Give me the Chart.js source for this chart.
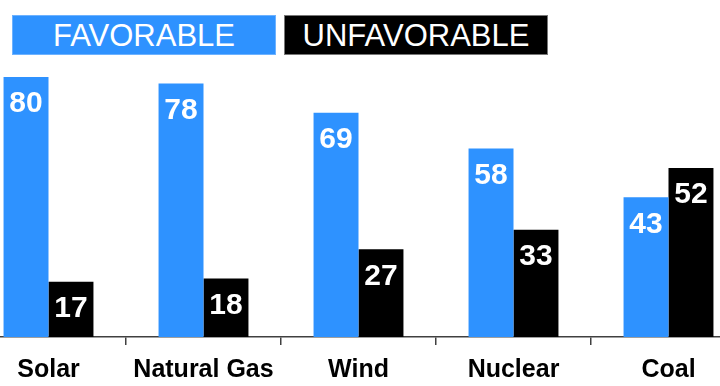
<!DOCTYPE html>
<html>
<head>
<meta charset="utf-8">
<script src="https://cdn.jsdelivr.net/npm/chart.js@4.4.0/dist/chart.umd.min.js"></script>
<style>
  html, body { margin: 0; padding: 0; background: #fff; overflow: hidden; }
  body { width: 720px; height: 386px; position: relative; }
  #wrap { position: absolute; left: -29px; top: 0; width: 775px; height: 386px; }
  .key {
    position: absolute; top: 15px; height: 40px; line-height: 40px;
    color: #fff; text-align: center; box-sizing: border-box;
    font-family: "Liberation Sans", Arial, sans-serif; font-size: 31px;
  }
</style>
</head>
<body>
<div id="wrap"><canvas id="myChart"></canvas></div>
<div id="keyFav" class="key" style="left:12px;width:264px;"></div>
<div id="keyUnfav" class="key" style="left:284px;width:264px;"></div>
<script>
var categories = ['Solar', 'Natural Gas', 'Wind', 'Nuclear', 'Coal'];
var favorable = [80, 78, 69, 58, 43];
var unfavorable = [17, 18, 27, 33, 52];
var seriesNames = ['FAVORABLE', 'UNFAVORABLE'];

var BLUE = '#2e92ff';
var FONT = '"Liberation Sans", Arial, sans-serif';

// legend boxes as plain html text
var kf = document.getElementById('keyFav');
kf.textContent = seriesNames[0];
kf.style.background = BLUE;
kf.style.border = '1px solid #6db2ff';
var ku = document.getElementById('keyUnfav');
ku.textContent = seriesNames[1];
ku.style.background = '#000';
ku.style.border = '1px solid #777';

// white numbers inside the top of each bar
var valueLabels = {
    id: 'valueLabels',
    afterDatasetsDraw: function(chart) {
        var ctx = chart.ctx;
        ctx.save();
        ctx.fillStyle = '#fff';
        ctx.font = 'bold 30px ' + FONT;
        ctx.textAlign = 'center';
        ctx.textBaseline = 'middle';
        chart.data.datasets.forEach(function(ds, i) {
            chart.getDatasetMeta(i).data.forEach(function(bar, j) {
                ctx.fillText(ds.data[j], bar.x, bar.y + 27);
            });
        });
        ctx.restore();
    }
};

var ctx = document.getElementById('myChart').getContext('2d');
var chart = new Chart(ctx, {
    type: 'bar',
    data: {
        labels: categories,
        datasets: [{
            label: seriesNames[0],
            data: favorable,
            backgroundColor: BLUE,
            categoryPercentage: 0.58,
            barPercentage: 1
        }, {
            label: seriesNames[1],
            data: unfavorable,
            backgroundColor: '#000',
            categoryPercentage: 0.58,
            barPercentage: 1
        }]
    },
    options: {
        responsive: true,
        maintainAspectRatio: false,
        animation: false,
        layout: { padding: { top: 12, left: 0, right: 0, bottom: 0 } },
        plugins: {
            legend: { display: false },
            tooltip: { enabled: false }
        },
        scales: {
            y: { display: false, min: 0, max: 100 },
            x: {
                afterFit: function(s) { s.height = 49; },
                border: { display: true, color: '#404040', width: 1.5 },
                grid: {
                    offset: true,
                    drawOnChartArea: false,
                    drawTicks: true,
                    tickLength: 8,
                    color: '#404040',
                    lineWidth: 1.5
                },
                ticks: {
                    color: '#000',
                    padding: 10,
                    font: { family: FONT, size: 25, weight: 'bold' }
                }
            }
        }
    },
    plugins: [valueLabels]
});
</script>
</body>
</html>
